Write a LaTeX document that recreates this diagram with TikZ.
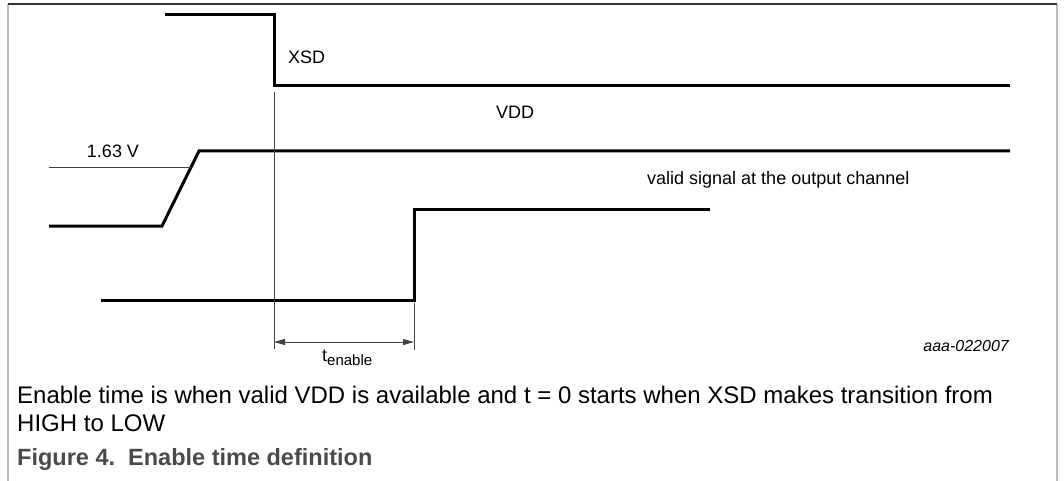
\documentclass[tikz,border=0pt]{standalone}
\usepackage{fontspec}
\setmainfont{Liberation Sans}
\usetikzlibrary{arrows.meta}
\definecolor{framedark}{HTML}{333333}
\definecolor{framelight}{HTML}{BBBBBB}
\definecolor{capgray}{HTML}{4A4A4A}
\tikzset{
  trace/.style={line width=3pt, line join=miter, black},
  thin/.style={line width=1pt, black!75},
  lbl/.style={inner sep=0pt, font=\fontsize{18}{21}\selectfont},
  captxt/.style={inner sep=0pt, anchor=base west, font=\fontsize{24}{28}\selectfont},
  dimarrow/.style={line width=1pt, black!75, {Triangle[length=11pt,width=6pt]}-{Triangle[length=11pt,width=6pt]}}
}
\begin{document}
\begin{tikzpicture}[x=1pt,y=-1pt]
\useasboundingbox (0,0) rectangle (1064,481);
% frame
\draw[framelight, line width=2pt] (8,4) -- (8,481);
\draw[framelight, line width=2pt] (1057,4) -- (1057,481);
\draw[framedark, line width=1.2pt] (8,4) -- (1057,4);

% XSD trace
\coordinate (xsdA) at (165,15);
\coordinate (xsdB) at (274,15);
\coordinate (xsdC) at (274,86);
\coordinate (xsdD) at (1010,86);
\draw[trace] (xsdA) -- (xsdB) -- (xsdC) -- (xsdD);
\node[lbl, anchor=west] (xsd) at (288,57) {XSD};

% VDD trace
\coordinate (vddA) at (49,226);
\coordinate (vddB) at (162,226);
\coordinate (vddC) at (199,151);
\coordinate (vddD) at (1010,151);
\draw[trace] (vddA) -- (vddB) -- (vddC) -- (vddD);
\node[lbl] (vdd) at (515,112) {VDD};

% threshold
\coordinate (thA) at (49,168);
\coordinate (thB) at (191,168);
\draw[thin] (thA) -- (thB);
\node[lbl] (th) at (113,151) {1.63 V};

% output trace
\coordinate (outA) at (101,300);
\coordinate (outB) at (414,300);
\coordinate (outC) at (414,209);
\coordinate (outD) at (710,209);
\draw[trace] (outA) -- (outB) -- (outC) -- (outD);
\node[lbl, anchor=west] (valid) at (647,180) {valid signal at the output channel};

% reference line and dimension
\coordinate (refTop) at (274,92);
\coordinate (refBot) at (274,349);
\coordinate (tickTop) at (414,303);
\coordinate (tickBot) at (414,350);
\draw[thin] (refTop) -- (refBot);
\draw[thin] (tickTop) -- (tickBot);
\coordinate (dimL) at (274,342);
\coordinate (dimR) at (414,342);
\draw[dimarrow] (dimL) -- (dimR);
\node[lbl, anchor=base west] (ten) at (322,361) {t\raisebox{-4pt}{\fontsize{15}{18}\selectfont enable}};

\node[inner sep=0pt, anchor=east, font=\fontsize{16}{19}\selectfont\itshape] (code) at (1009,346) {aaa-022007};

% captions
\node[captxt] (cap1) at (17,403) {Enable time is when valid VDD is available and t = 0 starts when XSD makes transition from};
\node[captxt] (cap2) at (17,431) {HIGH to LOW};
\node[captxt, text=capgray, font=\fontsize{23.5}{28}\selectfont\bfseries] (cap3) at (17,465) {Figure 4.\ \ Enable time definition};
\end{tikzpicture}
\end{document}
